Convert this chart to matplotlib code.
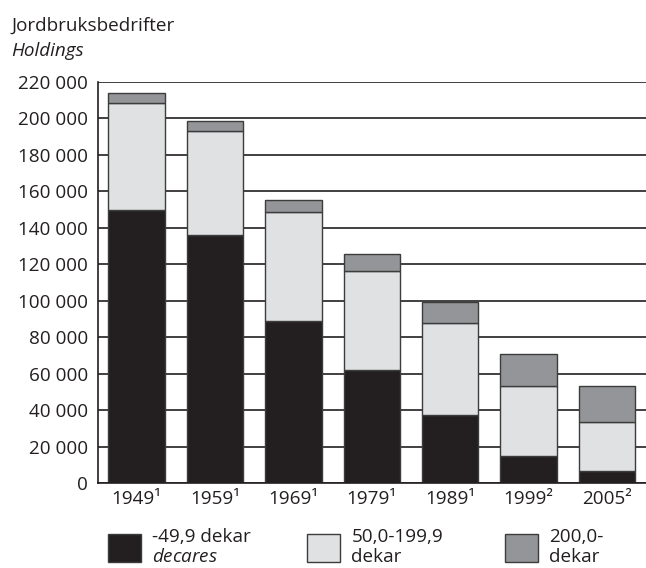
import matplotlib; matplotlib.use("Agg")
import matplotlib.pyplot as plt
import numpy as np

years = ["1949¹", "1959¹", "1969¹", "1979¹", "1989¹", "1999²", "2005²"]
small = [150000, 136000, 89000, 62000, 37300, 14800, 6600]
medium = [58500, 57000, 59500, 54300, 50300, 38600, 26700]
large = [5500, 5500, 6500, 9300, 11900, 17400, 19900]
labels = ["-49,9 dekar\n$\\mathit{decares}$", "50,0-199,9\ndekar", "200,0-\ndekar"]
yticks = np.arange(0, 220001, 20000)

plt.rcParams["font.family"] = ["Open Sans", "DejaVu Sans"]
plt.rcParams["mathtext.fontset"] = "custom"
plt.rcParams["mathtext.it"] = "Open Sans:italic"
plt.rcParams["mathtext.rm"] = "Open Sans"
fs = 13.6
dark = "#231f20"

fig = plt.figure(figsize=(6.46, 5.68), dpi=100)
ax = fig.add_axes([97.5/646, 1-483/568, 1-97.5/646, (483-82)/568])

x = np.arange(len(years))
s, m, l = map(np.array, (small, medium, large))
w = 0.72
kw = dict(width=w, edgecolor="#3c3c3c", linewidth=1.0, zorder=3)
b1 = ax.bar(x, s, color=dark, **kw)
b2 = ax.bar(x, m, bottom=s, color="#e0e1e3", **kw)
b3 = ax.bar(x, l, bottom=s+m, color="#939598", **kw)

ax.set_xlim(-0.5, 6.5)
ax.set_ylim(0, 220000)
ax.set_yticks(yticks)
ax.set_yticklabels([f"{v:,}".replace(",", " ") for v in yticks], fontsize=fs, color=dark)
ax.set_xticks(x)
ax.set_xticklabels(years, fontsize=fs, color=dark)
ax.tick_params(axis="y", length=0, pad=7)
ax.tick_params(axis="x", length=0, pad=5)
ax.yaxis.grid(True, color=dark, linewidth=1.2, zorder=1)
ax.set_axisbelow(True)
for sp in ["top", "right"]:
    ax.spines[sp].set_visible(False)
for sp in ["left", "bottom"]:
    ax.spines[sp].set_color(dark)
    ax.spines[sp].set_linewidth(1.2)
    ax.spines[sp].set_zorder(4)

fig.text(11/646, 1-17/568, "Jordbruksbedrifter", fontsize=fs, color=dark, va="top")
fig.text(11/646, 1-42/568, "Holdings", fontsize=fs, color=dark, va="top", style="italic")

# one legend per entry so the columns sit where the original has them
for h, lab, px in zip([b1, b2, b3], labels, [108, 307, 505]):
    leg = fig.legend([h], [lab], loc="lower left", bbox_to_anchor=(px/646, 0.004),
                     frameon=False, fontsize=fs, handlelength=1.75, handleheight=1.95,
                     handletextpad=0.6, borderpad=0, borderaxespad=0)
    for t in leg.get_texts():
        t.set_color(dark)
        t.set_linespacing(1.12)

fig.savefig("out.png", dpi=100)
